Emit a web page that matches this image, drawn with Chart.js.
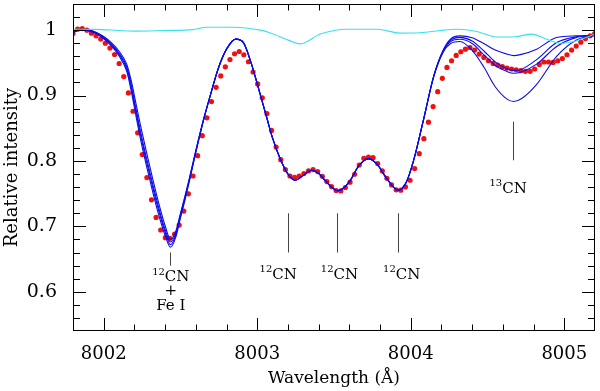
<!DOCTYPE html>
<html>
<head>
<meta charset="utf-8">
<script src="https://cdn.jsdelivr.net/npm/chart.js@4.4.0/dist/chart.umd.min.js"></script>
<style>
  html, body { margin: 0; padding: 0; background: #fff; }
  canvas { display: block; }
</style>
</head>
<body>
<canvas id="espectro" width="600" height="391"></canvas>
<script>
// observed spectrum (red dots), evenly sampled in wavelength
const obsStart = 8001.80;
const obsStep = 0.03007;
const obsFlux = [
  0.9948, 1.0015, 1.0024, 1.0000, 0.9954, 0.9913, 0.9863, 0.9800, 0.9726, 0.9628,
  0.9490, 0.9290, 0.9040, 0.8760, 0.8430, 0.8097, 0.7746, 0.7405, 0.7137, 0.6944,
  0.6827, 0.6817, 0.6883, 0.7020, 0.7233, 0.7497, 0.7770, 0.8081, 0.8386, 0.8660,
  0.8908, 0.9126, 0.9300, 0.9440, 0.9550, 0.9639, 0.9674, 0.9624, 0.9517, 0.9360,
  0.9178, 0.8965, 0.8725, 0.8467, 0.8212, 0.8020, 0.7868, 0.7770, 0.7751, 0.7770,
  0.7807, 0.7847, 0.7868, 0.7838, 0.7766, 0.7685, 0.7609, 0.7548, 0.7542, 0.7594,
  0.7675, 0.7797, 0.7938, 0.8040, 0.8060, 0.8050, 0.7960, 0.7847, 0.7736, 0.7634,
  0.7558, 0.7553, 0.7603, 0.7705, 0.7883, 0.8112, 0.8340, 0.8593, 0.8832, 0.9060,
  0.9263, 0.9430, 0.9532, 0.9613, 0.9670, 0.9710, 0.9735, 0.9695, 0.9635, 0.9583,
  0.9532, 0.9491, 0.9467, 0.9441, 0.9420, 0.9406, 0.9395, 0.9380, 0.9370, 0.9370,
  0.9406, 0.9476, 0.9513, 0.9513, 0.9507, 0.9532, 0.9567, 0.9624, 0.9695, 0.9756,
  0.9817, 0.9872, 0.9913, 0.9948
];

// synthetic spectra (blue lines)
const modelWave = [
  8001.80, 8001.85, 8001.90, 8001.95, 8002.00, 8002.05, 8002.10, 8002.15, 8002.18, 8002.21,
  8002.24, 8002.28, 8002.32, 8002.36, 8002.40, 8002.435, 8002.47, 8002.50, 8002.53, 8002.56,
  8002.60, 8002.65, 8002.70, 8002.75, 8002.80, 8002.86, 8002.91, 8002.96, 8003.00, 8003.03,
  8003.06, 8003.10, 8003.15, 8003.20, 8003.245, 8003.30, 8003.354, 8003.40, 8003.45, 8003.527,
  8003.60, 8003.66, 8003.723, 8003.78, 8003.85, 8003.918, 8003.97, 8004.02, 8004.08, 8004.15,
  8004.21, 8004.26, 8004.32, 8004.40, 8004.475, 8004.55, 8004.625, 8004.67, 8004.72, 8004.82,
  8004.95, 8005.08, 8005.20
];
const modelA = [
  0.9965, 1.0014, 1.0004, 0.9967, 0.9902, 0.9808, 0.9678, 0.9480, 0.9220, 0.8880,
  0.8540, 0.8120, 0.7720, 0.7340, 0.7010, 0.6800, 0.6930, 0.7200, 0.7470, 0.7755,
  0.8160, 0.8635, 0.9050, 0.9440, 0.9710, 0.9863, 0.9810, 0.9500, 0.9180, 0.8930,
  0.8680, 0.8350, 0.8030, 0.7800, 0.7705, 0.7780, 0.7857, 0.7810, 0.7680, 0.7545,
  0.7680, 0.7920, 0.8036, 0.7950, 0.7710, 0.7553, 0.7670, 0.8020, 0.8600, 0.9300,
  0.9690, 0.9865, 0.9913, 0.9885, 0.9795, 0.9695, 0.9635, 0.9610, 0.9630, 0.9710,
  0.9887, 0.9913, 0.9920
];
const modelB = [
  0.9965, 1.0012, 1.0000, 0.9960, 0.9890, 0.9790, 0.9650, 0.9440, 0.9160, 0.8800,
  0.8450, 0.8030, 0.7640, 0.7270, 0.6950, 0.6760, 0.6900, 0.7180, 0.7450, 0.7740,
  0.8150, 0.8630, 0.9050, 0.9440, 0.9710, 0.9863, 0.9810, 0.9500, 0.9180, 0.8930,
  0.8680, 0.8350, 0.8030, 0.7800, 0.7705, 0.7780, 0.7857, 0.7810, 0.7680, 0.7545,
  0.7680, 0.7920, 0.8036, 0.7950, 0.7710, 0.7553, 0.7670, 0.8020, 0.8600, 0.9300,
  0.9680, 0.9845, 0.9890, 0.9835, 0.9685, 0.9515, 0.9410, 0.9385, 0.9400, 0.9550,
  0.9810, 0.9900, 0.9920
];
const modelC = [
  0.9965, 1.0011, 0.9997, 0.9954, 0.9880, 0.9775, 0.9630, 0.9410, 0.9115, 0.8750,
  0.8400, 0.7980, 0.7590, 0.7225, 0.6910, 0.6720, 0.6870, 0.7155, 0.7430, 0.7725,
  0.8140, 0.8625, 0.9050, 0.9440, 0.9710, 0.9863, 0.9810, 0.9500, 0.9180, 0.8930,
  0.8680, 0.8350, 0.8030, 0.7800, 0.7705, 0.7780, 0.7857, 0.7810, 0.7680, 0.7545,
  0.7680, 0.7920, 0.8036, 0.7950, 0.7710, 0.7553, 0.7670, 0.8020, 0.8600, 0.9300,
  0.9670, 0.9825, 0.9860, 0.9795, 0.9625, 0.9460, 0.9370, 0.9340, 0.9360, 0.9480,
  0.9750, 0.9890, 0.9920
];
const modelD = [
  0.9965, 1.0009, 0.9993, 0.9947, 0.9868, 0.9758, 0.9605, 0.9370, 0.9060, 0.8690,
  0.8330, 0.7910, 0.7520, 0.7160, 0.6860, 0.6680, 0.6840, 0.7130, 0.7410, 0.7710,
  0.8130, 0.8620, 0.9050, 0.9440, 0.9710, 0.9863, 0.9810, 0.9500, 0.9180, 0.8930,
  0.8680, 0.8350, 0.8030, 0.7800, 0.7705, 0.7780, 0.7857, 0.7810, 0.7680, 0.7545,
  0.7680, 0.7920, 0.8036, 0.7950, 0.7710, 0.7553, 0.7670, 0.8020, 0.8600, 0.9290,
  0.9660, 0.9795, 0.9826, 0.9690, 0.9440, 0.9135, 0.8950, 0.8910, 0.8950, 0.9170,
  0.9600, 0.9850, 0.9920
];

// telluric spectrum (cyan line)
const tellWave = [
  8001.80, 8001.95, 8002.10, 8002.22, 8002.40, 8002.58, 8002.67, 8002.84, 8003.02, 8003.10,
  8003.21, 8003.28, 8003.41, 8003.50, 8003.58, 8003.78, 8003.93, 8004.06, 8004.19, 8004.30,
  8004.43, 8004.56, 8004.68, 8004.79, 8004.885, 8004.97, 8005.05, 8005.20
];
const tellFlux = [
  1.0015, 1.0012, 0.9995, 0.9985, 0.9995, 1.0008, 1.0045, 1.0045, 1.0000, 0.9945,
  0.9840, 0.9790, 0.9940, 0.9995, 1.0015, 1.0015, 0.9955, 0.9960, 0.9995, 1.0015,
  0.9980, 0.9895, 0.9900, 0.9940, 0.9860, 0.9800, 0.9820, 0.9940
];

// axis ticks
const xTickValues = [8002, 8003, 8004, 8005];
const yTickValues = [0.6, 0.7, 0.8, 0.9, 1.0];

// line identifications
const markWave = [8002.435, 8003.20, 8003.52, 8003.92, 8004.665];
const markTop = [0.660, 0.720, 0.720, 0.720, 0.860];
const markBottom = [0.640, 0.660, 0.660, 0.660, 0.801];
const labelWave = [8002.437, 8003.137, 8003.536, 8003.941, 8004.634];
const labelFlux = [0.6245, 0.6285, 0.6285, 0.6285, 0.760];
const labelIso = ["12", "12", "12", "12", "13"];
const labelMol = "CN";
const blendWave = 8002.437;
const blendPlusFlux = 0.6004;
const blendFlux = 0.5776;
const blendText = "Fe I";

const serif = "'DejaVu Serif', serif";

function pts(xs, ys) {
  return ys.map((v, i) => ({ x: xs[i], y: v }));
}

const obsPoints = obsFlux.map((v, i) => ({ x: obsStart + i * obsStep, y: v }));

function modelSet(data) {
  return {
    data: pts(modelWave, data),
    showLine: true,
    borderColor: "#0c0ce8",
    borderWidth: 1.1,
    pointRadius: 0,
    cubicInterpolationMode: "monotone"
  };
}

// no extra room for tick labels: the plot box is fixed
function sinPadding(s) {
  s.paddingTop = 0;
  s.paddingBottom = 0;
  s.paddingLeft = 0;
  s.paddingRight = 0;
}

// frame, inward ticks, line marks and labels
const marcas = {
  id: "marcas",
  afterDraw(chart) {
    const { ctx, chartArea: a, scales: { x, y } } = chart;
    ctx.save();

    ctx.strokeStyle = "#000";
    ctx.lineWidth = 1;
    ctx.strokeRect(a.left + 0.5, a.top + 0.5, a.right - a.left - 1, a.bottom - a.top - 1);
    ctx.beginPath();
    for (let k = Math.ceil(x.min / 0.2); k <= Math.floor(x.max / 0.2); k++) {
      const v = k * 0.2;
      const px = Math.round(x.getPixelForValue(v)) + 0.5;
      if (px < a.left + 2 || px > a.right - 2) continue;
      const len = Math.abs(v - Math.round(v)) < 1e-6 ? 13 : 6.5;
      ctx.moveTo(px, a.bottom); ctx.lineTo(px, a.bottom - len);
      ctx.moveTo(px, a.top); ctx.lineTo(px, a.top + len);
    }
    for (let k = Math.ceil(y.min / 0.02); k <= Math.floor(y.max / 0.02); k++) {
      const v = k * 0.02;
      const py = Math.round(y.getPixelForValue(v)) + 0.5;
      if (py < a.top + 2 || py > a.bottom - 2) continue;
      const len = k % 5 === 0 ? 13 : 7;
      ctx.moveTo(a.left, py); ctx.lineTo(a.left + len, py);
      ctx.moveTo(a.right, py); ctx.lineTo(a.right - len, py);
    }
    ctx.stroke();

    ctx.strokeStyle = "#444";
    ctx.beginPath();
    markWave.forEach((w, i) => {
      const px = Math.round(x.getPixelForValue(w)) + 0.5;
      ctx.moveTo(px, y.getPixelForValue(markTop[i]));
      ctx.lineTo(px, y.getPixelForValue(markBottom[i]));
    });
    ctx.stroke();

    ctx.fillStyle = "#000";
    ctx.textBaseline = "alphabetic";
    const supFont = "10px " + serif;
    const molFont = "15px " + serif;
    labelWave.forEach((w, i) => {
      ctx.font = supFont;
      const ws = ctx.measureText(labelIso[i]).width;
      ctx.font = molFont;
      const wm = ctx.measureText(labelMol).width;
      const cx = x.getPixelForValue(w);
      const cy = y.getPixelForValue(labelFlux[i]);
      const x0 = cx - (ws + wm) / 2;
      ctx.textAlign = "left";
      ctx.font = supFont;
      ctx.fillText(labelIso[i], x0, cy - 1);
      ctx.font = molFont;
      ctx.fillText(labelMol, x0 + ws, cy + 5.5);
    });

    ctx.textAlign = "center";
    ctx.textBaseline = "middle";
    ctx.font = "15px " + serif;
    const bx = x.getPixelForValue(blendWave);
    ctx.fillText("+", bx, y.getPixelForValue(blendPlusFlux));
    ctx.fillText(blendText, bx, y.getPixelForValue(blendFlux));
    ctx.restore();
  }
};

new Chart(document.getElementById("espectro"), {
  type: "scatter",
  data: {
    datasets: [
      {
        data: pts(tellWave, tellFlux),
        showLine: true,
        borderColor: "#38e2ea",
        borderWidth: 1.1,
        pointRadius: 0,
        cubicInterpolationMode: "monotone"
      },
      modelSet(modelA),
      modelSet(modelB),
      modelSet(modelC),
      modelSet(modelD),
      {
        data: obsPoints,
        showLine: false,
        pointRadius: 2.6,
        pointBackgroundColor: "#f01010",
        pointBorderWidth: 0
      }
    ]
  },
  options: {
    responsive: false,
    devicePixelRatio: 1,
    animation: false,
    events: [],
    layout: { padding: { top: 4, right: 5, left: 0, bottom: 0 } },
    plugins: { legend: { display: false }, tooltip: { enabled: false } },
    scales: {
      x: {
        type: "linear",
        min: 8001.8,
        max: 8005.2,
        afterFit: s => { s.height = 60; sinPadding(s); },
        afterBuildTicks: s => { s.ticks = xTickValues.map(v => ({ value: v })); },
        grid: { display: false },
        border: { display: false },
        ticks: {
          padding: 5,
          color: "#000",
          font: { family: serif, size: 18 },
          maxRotation: 0,
          callback: v => String(v)
        },
        title: {
          display: true,
          text: "Wavelength (Å)",
          color: "#000",
          font: { family: serif, size: 17 },
          padding: { top: 0, bottom: 2 }
        }
      },
      y: {
        type: "linear",
        min: 0.54,
        max: 1.04,
        afterFit: s => { s.width = 73; sinPadding(s); },
        afterBuildTicks: s => { s.ticks = yTickValues.map(v => ({ value: v })); },
        grid: { display: false },
        border: { display: false },
        ticks: {
          padding: 8,
          color: "#000",
          font: { family: serif, size: 19 },
          callback: v => String(Math.round(v * 10) / 10)
        },
        title: {
          display: true,
          text: "Relative intensity",
          color: "#000",
          font: { family: serif, size: 18 },
          padding: { top: 2, bottom: 0 }
        }
      }
    }
  },
  plugins: [marcas]
});
</script>
</body>
</html>
